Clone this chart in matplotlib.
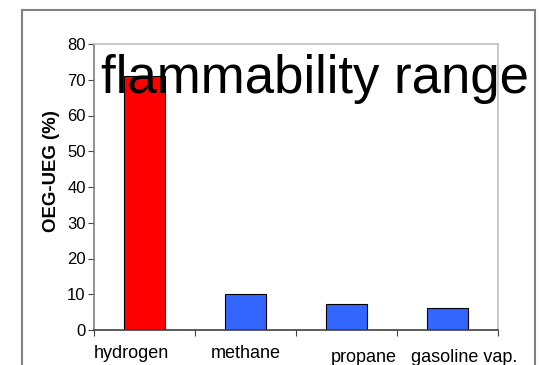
import matplotlib
matplotlib.use("Agg")
import matplotlib.pyplot as plt
from matplotlib.patches import Rectangle
from matplotlib.transforms import ScaledTranslation

categories = ["hydrogen", "methane", "propane", "gasoline vap."]
values = [71, 10, 7.4, 6.2]
colors = ["#ff0000", "#3366ff", "#3366ff", "#3366ff"]
yticks = [0, 10, 20, 30, 40, 50, 60, 70, 80]
title = "flammability range"
ylabel = "OEG-UEG (%)"

plt.rcParams['font.family'] = ['Liberation Sans', 'DejaVu Sans']

W, H = 539, 365
fig = plt.figure(figsize=(W / 100, H / 100), dpi=100)

# outer frame
fig.patches.append(Rectangle((22 / W, -0.1), (535 - 22) / W, (H - 10) / H + 0.1,
                             transform=fig.transFigure, fill=False,
                             edgecolor="#808080", linewidth=1.5))

ax = fig.add_axes([94 / W, 1 - 330 / H, (498 - 94) / W, (330 - 44) / H])
x = list(range(len(categories)))
ax.bar(x, values, width=0.4, color=colors, edgecolor="#000000", linewidth=0.8, zorder=2)
ax.set_xlim(-0.5, len(categories) - 0.5)
ax.set_ylim(0, 80)
ax.set_yticks(yticks)
ax.set_yticklabels([str(v) for v in yticks], fontsize=12)
ax.set_xticks([i - 0.5 for i in range(len(categories) + 1)])
ax.set_xticklabels([])
ax.tick_params(axis='x', direction='out', length=4, color="#404040")
ax.tick_params(axis='y', direction='out', length=4, color="#404040", pad=2)

for s in ['top', 'right']:
    ax.spines[s].set_color("#c0c0c0")
ax.spines['left'].set_color("#808080")
ax.spines['bottom'].set_color("#404040")
for s in ax.spines.values():
    s.set_linewidth(1.2)

# category labels (staggered as in the original)
dx = [-13.5, 0.5, 17.5, 17]
dy = [0, 0, -3, -3]
for i, lab in enumerate(categories):
    off = ScaledTranslation(dx[i] / 100, (dy[i] - 24) / 100, fig.dpi_scale_trans)
    ax.text(i, 0, lab, transform=ax.get_xaxis_transform() + off,
            ha='center', va='center', fontsize=13)

ax.set_ylabel(ylabel, fontsize=13.4, fontweight='bold')
ax.yaxis.set_label_coords(-0.085, 0.556)

fig.text(101 / W, 1 - 93 / H, title, fontsize=38, ha='left', va='baseline')

fig.savefig("out.png", dpi=100)
